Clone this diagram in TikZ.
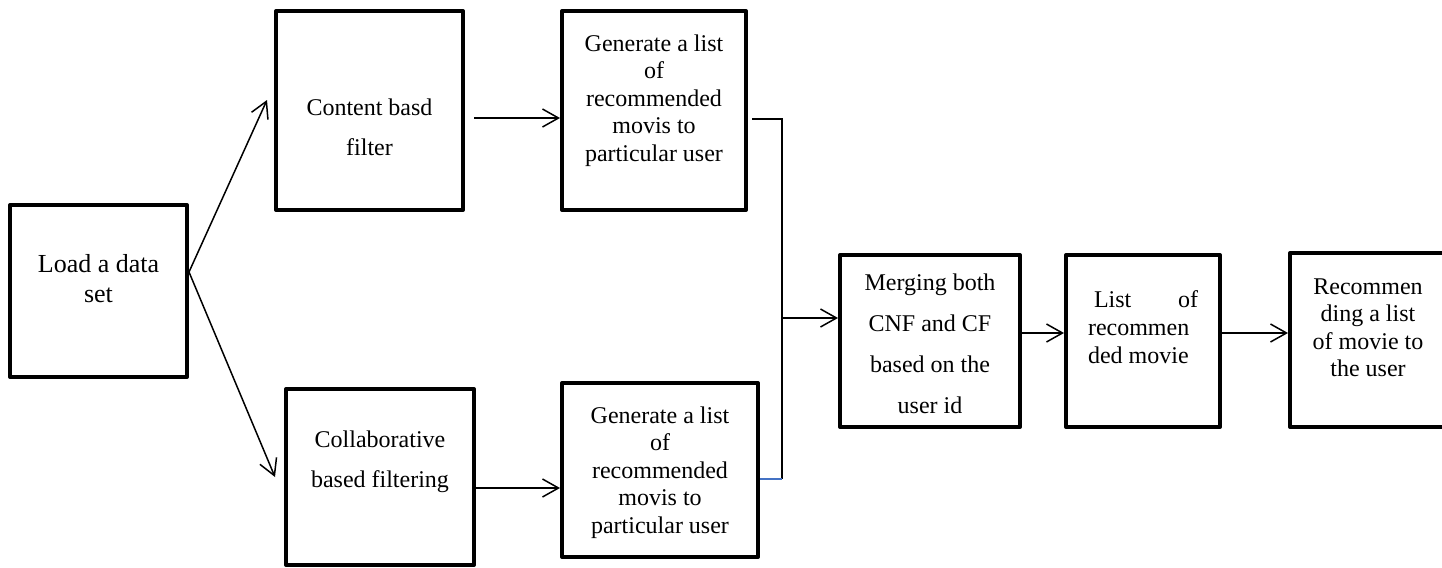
\documentclass[tikz,border=0pt]{standalone}
\usepackage{fontspec}
\setmainfont{Liberation Serif}
\usetikzlibrary{arrows.meta}
\definecolor{wordblue}{RGB}{68,114,196}
% centred block of lines; the first baseline is the block's baseline
\newcommand\boxlines[2]{\parbox[t]{100pt}{\centering\setlength{\baselineskip}{#1}#2}}
\begin{document}
\begin{tikzpicture}[x=0.5pt,y=-0.5pt,
  stage/.style={draw, line width=2pt, line join=round, inner sep=0pt},
  txt/.style={anchor=base, inner sep=0pt, font=\fontsize{12pt}{13.8pt}\selectfont},
  link/.style={line width=0.75pt},
  arr/.style={link, -{Straight Barb[length=8pt,width=9pt]}}]
\useasboundingbox (0,0) rectangle (1442,568);
\clip (0,0) rectangle (1442,568);

% stage boxes
\node[stage, minimum width=88.5pt, minimum height=86pt]  (b1) at (98.5,291) {};
\node[stage, minimum width=93.5pt, minimum height=99.5pt] (b2) at (369.5,110.5) {};
\node[stage, minimum width=92pt,   minimum height=99.5pt] (b3) at (654,110.5) {};
\node[stage, minimum width=94pt,   minimum height=88pt]  (b4) at (380,477) {};
\node[stage, minimum width=98pt,   minimum height=87pt]  (b5) at (660,470) {};
\node[stage, minimum width=90pt,   minimum height=86pt]  (b6) at (930,341) {};
\node[stage, minimum width=77pt,   minimum height=86pt]  (b7) at (1143,341) {};
\node[stage, minimum width=78pt,   minimum height=87pt]  (b8) at (1368,340) {};

% box texts
\node[txt, font=\fontsize{13pt}{15pt}\selectfont] (t1) at (98.5,272) {\boxlines{15pt}{Load a data\\set}};
\node[txt] (t2) at (369.5,115) {\boxlines{20pt}{Content basd\\filter}};
\node[txt] (t3) at (654,51) {\boxlines{13.75pt}{Generate a list\\of\\recommended\\movis to\\particular user}};
\node[txt] (t4) at (380,447) {\boxlines{20pt}{Collaborative\\based filtering}};
\node[txt] (t5) at (660,423) {\boxlines{13.75pt}{Generate a list\\of\\recommended\\movis to\\particular user}};
\node[txt] (t6) at (930,290) {\boxlines{20.5pt}{Merging both\\CNF and CF\\based on the\\user id}};
\node[txt] (t7) at (1143,307) {\parbox[t]{55pt}{\raggedright\setlength{\baselineskip}{14pt}%
  \hspace*{3pt}\makebox[52pt][s]{List\hfill of}\\recommen\\ded movie}};
\node[txt] (t8) at (1368,294) {\boxlines{13.75pt}{Recommen\\ding a list\\of movie to\\the user}};

% connector points
\coordinate (fork) at (b1.east |- 0,272);
\coordinate (tipA) at (267,100);
\coordinate (tipB) at (275,477);
\coordinate (u0) at (474,118);
\coordinate (s3) at (752,119);
\coordinate (j1) at (782,119);
\coordinate (j2) at (782,479);
\coordinate (jm) at (782,318);

% connectors
\draw[arr] (fork) -- (tipA);
\draw[arr] (fork) -- (tipB);
\draw[arr] (u0) -- (u0 -| b3.west);
\draw[arr] (b4.east |- 0,488) -- (b5.west |- 0,488);
\draw[link] (s3) -- (j1) -- (j2);
\draw[link, wordblue] (b5.east |- j2) -- (j2);
\draw[arr] (jm) -- (jm -| b6.west);
\draw[arr] (b6.east |- 0,333) -- (b7.west |- 0,333);
\draw[arr] (b7.east |- 0,333) -- (b8.west |- 0,333);
\end{tikzpicture}
\end{document}
